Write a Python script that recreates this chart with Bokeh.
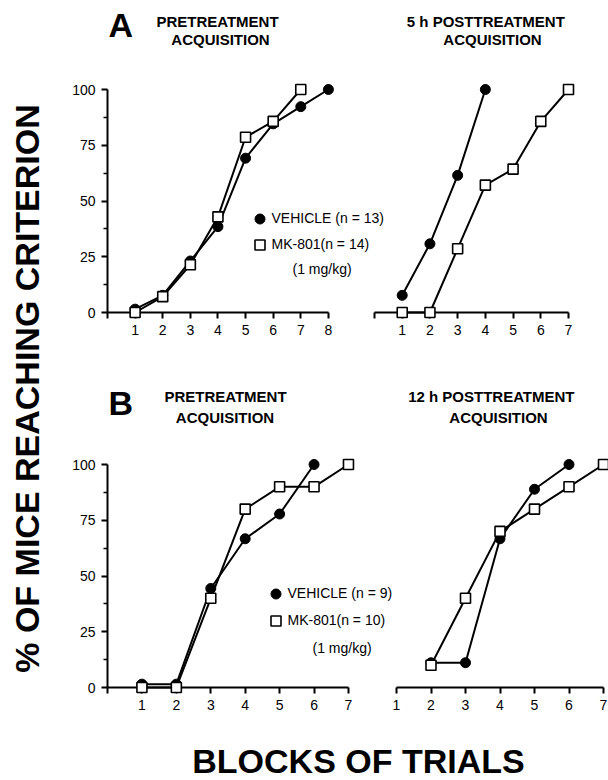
import math
from bokeh.plotting import figure
from bokeh.layouts import row, column
from bokeh.models import Range1d, FixedTicker, Label, Legend, LegendItem
from bokeh.embed import file_html
from bokeh.resources import INLINE

# ---------------- data (percent of mice reaching criterion) ----------------
# Panel A, pretreatment acquisition
a_pre_blocks_veh = [1, 2, 3, 4, 5, 6, 7, 8]
a_pre_veh = [1.5, 7.7, 23.1, 38.5, 69.2, 84.6, 92.3, 100]
a_pre_blocks_mk = [1, 2, 3, 4, 5, 6, 7]
a_pre_mk = [0, 7.1, 21.4, 42.9, 78.6, 85.7, 100]
# Panel A, 5 h posttreatment acquisition
a_post_blocks_veh = [1, 2, 3, 4]
a_post_veh = [7.7, 30.8, 61.5, 100]
a_post_blocks_mk = [1, 2, 3, 4, 5, 6, 7]
a_post_mk = [0, 0, 28.6, 57.1, 64.3, 85.7, 100]
# Panel B, pretreatment acquisition
b_pre_blocks_veh = [1, 2, 3, 4, 5, 6]
b_pre_veh = [1.5, 1.5, 44.4, 66.7, 77.8, 100]
b_pre_blocks_mk = [1, 2, 3, 4, 5, 6, 7]
b_pre_mk = [0, 0, 40, 80, 90, 90, 100]
# Panel B, 12 h posttreatment acquisition
b_post_blocks_veh = [2, 3, 4, 5, 6]
b_post_veh = [11.1, 11.1, 66.7, 88.9, 100]
b_post_blocks_mk = [2, 3, 4, 5, 6, 7]
b_post_mk = [10, 40, 70, 80, 90, 100]

y_ticks = [0, 25, 50, 75, 100]
y_minor_ticks = [12.5, 37.5, 62.5, 87.5]
a_pre_ticks = [0, 1, 2, 3, 4, 5, 6, 7, 8]
a_post_ticks = [0, 1, 2, 3, 4, 5, 6, 7]
b_pre_ticks = [0, 1, 2, 3, 4, 5, 6, 7]
b_post_ticks = [1, 2, 3, 4, 5, 6, 7]

legend_a = ["VEHICLE (n = 13)", "MK-801(n = 14)"]
legend_b = ["VEHICLE (n = 9)", "MK-801(n = 10)"]
dose_text = "(1  mg/kg)"

FONT = "Liberation Sans"


def panel(width, height, xr, borders, show_y, xticks, xbounds, hide_zero=True, transparent=False):
    left, right, top, bottom = borders
    p = figure(width=width, height=height, x_range=Range1d(*xr), y_range=Range1d(0, 100),
               output_backend="svg", toolbar_location=None, title=None,
               min_border_left=left, min_border_right=right,
               min_border_top=top, min_border_bottom=bottom,
               y_axis_location="left" if show_y else None)
    p.outline_line_color = None
    p.grid.visible = False
    if transparent:
        p.background_fill_color = None
        p.border_fill_color = None
    else:
        p.background_fill_color = "white"
        p.border_fill_color = "white"
    xa = p.xaxis[0]
    xa.ticker = FixedTicker(ticks=xticks)
    xa.bounds = xbounds
    if hide_zero:
        xa.major_label_overrides = {0: ""}
    xa.axis_line_width = 2
    xa.axis_line_color = "black"
    xa.major_tick_line_width = 2
    xa.major_tick_out = 6
    xa.major_tick_in = 0
    xa.minor_tick_line_color = None
    xa.major_label_text_font = FONT
    xa.major_label_text_font_size = "14px"
    xa.major_label_text_color = "black"
    xa.major_label_standoff = 6
    if show_y:
        ya = p.yaxis[0]
        ya.ticker = FixedTicker(ticks=y_ticks, minor_ticks=y_minor_ticks)
        ya.axis_line_width = 2
        ya.axis_line_color = "black"
        ya.major_tick_line_width = 2
        ya.major_tick_out = 6
        ya.major_tick_in = 0
        ya.minor_tick_line_width = 1.5
        ya.minor_tick_out = 4
        ya.minor_tick_in = 0
        ya.major_label_text_font = FONT
        ya.major_label_text_font_size = "14px"
        ya.major_label_text_color = "black"
        ya.major_label_standoff = 6
    return p


def series(p, xv, yv, xm, ym):
    p.line(xv, yv, line_color="black", line_width=2, level="overlay")
    p.line(xm, ym, line_color="black", line_width=2, level="overlay")
    rv = p.scatter(xv, yv, marker="circle", size=10, fill_color="black",
                   line_color="black", level="overlay")
    rm = p.scatter(xm, ym, marker="square", size=10, fill_color="white",
                   line_color="black", line_width=1.6, level="overlay")
    return rv, rm


def add_legend(p, rv, rm, labels, loc, gap):
    leg = Legend(items=[LegendItem(label=labels[0], renderers=[rv]),
                        LegendItem(label=labels[1], renderers=[rm])],
                 location=loc, orientation="vertical", glyph_width=25, glyph_height=25,
                 label_height=25, label_standoff=0, spacing=gap, padding=0, margin=0,
                 border_line_color=None, background_fill_alpha=0,
                 label_text_font=FONT, label_text_font_size="14px",
                 label_text_color="black")
    p.add_layout(leg)


def blank(width, height):
    p = figure(width=width, height=height, x_range=Range1d(0, 1), y_range=Range1d(0, 1),
               output_backend="svg", toolbar_location=None, title=None,
               min_border=0, x_axis_location=None, y_axis_location=None)
    p.outline_line_color = None
    p.grid.visible = False
    p.background_fill_color = "white"
    p.border_fill_color = "white"
    return p


def label(p, x, y, text, size="15px", bold=True, align="center", angle=0):
    p.add_layout(Label(x=x, y=y, x_units="screen", y_units="screen", text=text,
                       text_font=FONT, text_font_size=size,
                       text_font_style="bold" if bold else "normal",
                       text_align=align, text_baseline="middle", angle=angle,
                       text_color="black"))


# ---------------- headers ----------------
head_a = blank(550, 75)
label(head_a, 50, 50.5, "A", size="34px", align="left")
label(head_a, 159, 54.5, "PRETREATMENT")
label(head_a, 162, 36, "ACQUISITION")
label(head_a, 431.5, 54.5, "5  h  POSTTREATMENT")
label(head_a, 434, 36, "ACQUISITION")

head_b = blank(550, 100)
label(head_b, 50, 47.5, "B", size="34px", align="left")
label(head_b, 167, 54, "PRETREATMENT")
label(head_b, 166.5, 33.5, "ACQUISITION")
label(head_b, 437, 54, "12  h  POSTTREATMENT")
label(head_b, 440, 33.5, "ACQUISITION")

# ---------------- Panel A ----------------
# left panel frame is widened past block 8 so its legend fits; the axis stops at 8
a1 = panel(337, 275, (0, 10.43), (49, 0, 14, 38), True, a_pre_ticks, (0, 8))
rv, rm = series(a1, a_pre_blocks_veh, a_pre_veh, a_pre_blocks_mk, a_pre_mk)
add_legend(a1, rv, rm, legend_a, (139.5, 55.5), 1)
label(a1, 185, 44, dose_text, size="14px", bold=False, align="left")

a2 = panel(258, 275, (0, 7), (24, 40, 14, 38), False, a_post_ticks, (0, 7), transparent=True)
series(a2, a_post_blocks_veh, a_post_veh, a_post_blocks_mk, a_post_mk)
a2.margin = (0, 0, 0, -45)

# ---------------- Panel B ----------------
b1 = panel(354, 275, (0, 8.86), (49, 0, 14, 38), True, b_pre_ticks, (0, 7))
rv, rm = series(b1, b_pre_blocks_veh, b_pre_veh, b_pre_blocks_mk, b_pre_mk)
add_legend(b1, rv, rm, legend_b, (155.5, 54.5), 2)
label(b1, 205, 40, dose_text, size="14px", bold=False, align="left")

b2 = panel(236, 275, (1, 7), (24, 5, 14, 38), False, b_post_ticks, (1, 7),
           hide_zero=False, transparent=True)
series(b2, b_post_blocks_veh, b_post_veh, b_post_blocks_mk, b_post_mk)
b2.margin = (0, 0, 0, -40)

# ---------------- shared axis titles ----------------
ylab = blank(58, 780)
label(ylab, 26, 392, "% OF MICE REACHING CRITERION", size="34px", angle=math.pi / 2)

xlab = blank(550, 55)
label(xlab, 300, 20, "BLOCKS OF TRIALS", size="34px")

layout = row(ylab, column(head_a, row(a1, a2), head_b, row(b1, b2), xlab))

with open("out.html", "w") as f:
    f.write(file_html(layout, INLINE))
